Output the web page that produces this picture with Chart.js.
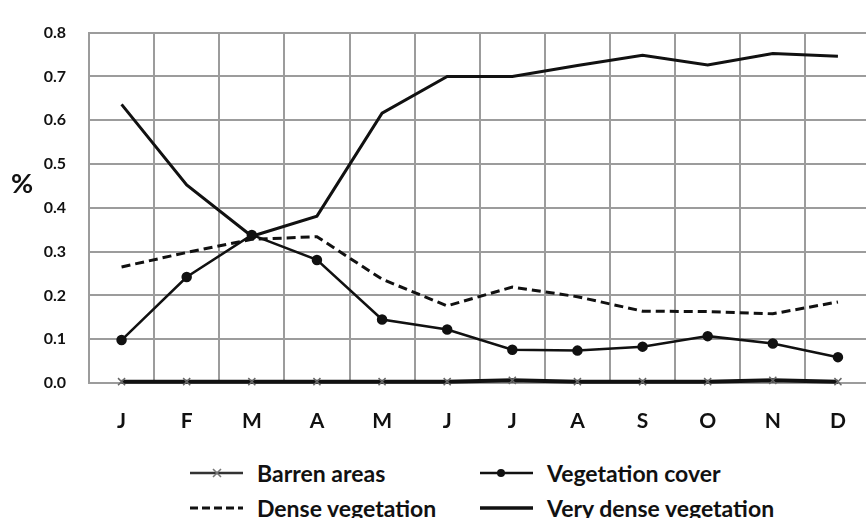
<!DOCTYPE html>
<html>
<head>
<meta charset="utf-8">
<script src="https://cdn.jsdelivr.net/npm/chart.js@4"></script>
<style>
  html, body { margin: 0; padding: 0; background: #fff; overflow: hidden; }
  #wrap { position: relative; width: 866px; height: 518px; overflow: hidden; font-family: Lato, "Liberation Sans", sans-serif; color: #111; }
  #chart { position: absolute; left: 0; top: 0; }
  #pct { position: absolute; left: 11px; top: 166px; font-size: 27px; font-weight: bold; }
  .lg { position: absolute; display: flex; align-items: center; font-size: 23px; font-weight: bold; white-space: nowrap; }
  .lg svg { margin-right: 14px; }
</style>
</head>
<body>
<div id="wrap">
  <canvas id="chart" width="877" height="450"></canvas>
  <div id="pct">%</div>
  <div id="legend"></div>
</div>
<script>
// months and values
const months = ['J', 'F', 'M', 'A', 'M', 'J', 'J', 'A', 'S', 'O', 'N', 'D'];
const yTicks = [0, 0.1, 0.2, 0.3, 0.4, 0.5, 0.6, 0.7, 0.8];

const barrenAreas = [0.003, 0.003, 0.003, 0.003, 0.003, 0.003, 0.006, 0.003, 0.003, 0.003, 0.006, 0.003];
const vegetationCover = [0.098, 0.242, 0.338, 0.281, 0.145, 0.122, 0.076, 0.074, 0.083, 0.107, 0.09, 0.059];
const denseVegetation = [0.265, 0.298, 0.328, 0.334, 0.237, 0.176, 0.219, 0.197, 0.164, 0.163, 0.158, 0.185];
const veryDenseVegetation = [0.636, 0.452, 0.335, 0.381, 0.616, 0.7, 0.7, 0.725, 0.748, 0.726, 0.752, 0.746];

const gridColor = '#9c9c9c';
const font = 'Lato, "Liberation Sans", sans-serif';

new Chart(document.getElementById('chart').getContext('2d'), {
    type: 'line',
    data: {
        labels: months,
        datasets: [
            { label: 'Very dense vegetation', data: veryDenseVegetation, borderColor: '#111', borderWidth: 3, pointRadius: 0, tension: 0 },
            { label: 'Dense vegetation', data: denseVegetation, borderColor: '#111', borderWidth: 3, borderDash: [9, 5], pointRadius: 0, tension: 0 },
            { label: 'Vegetation cover', data: vegetationCover, borderColor: '#111', borderWidth: 2.5, pointRadius: 4, pointBackgroundColor: '#111', pointBorderColor: '#111', tension: 0 },
            { label: 'Barren areas', data: barrenAreas, borderColor: '#111', borderWidth: 4, pointStyle: 'crossRot', pointRadius: 5, pointBorderColor: '#666', pointBorderWidth: 1.5, tension: 0, clip: false }
        ]
    },
    options: {
        responsive: false,
        animation: false,
        layout: { padding: { top: 23, right: 0, left: 0, bottom: 0 } },
        plugins: { legend: { display: false }, tooltip: { enabled: false } },
        scales: {
            x: {
                offset: true,
                grid: { offset: true, color: gridColor, lineWidth: 2, drawTicks: false },
                border: { color: gridColor, width: 2 },
                ticks: { color: '#111', font: { family: font, size: 21, weight: 'bold' }, padding: 26 },
                afterFit: s => { s.height = 67; }
            },
            y: {
                min: 0, max: 0.8,
                afterBuildTicks: s => { s.ticks = yTicks.map(v => ({ value: v })); },
                grid: { color: gridColor, lineWidth: 2, drawTicks: false },
                border: { color: gridColor, width: 2 },
                ticks: { color: '#111', font: { family: font, size: 16, weight: 'bold' }, padding: 23, callback: v => v.toFixed(1) },
                afterFit: s => { s.width = 89; }
            }
        }
    }
});

// legend, two rows of two entries
const legendItems = [
    ['Barren areas', 'x', 190, 473],
    ['Vegetation cover', 'dot', 480, 473],
    ['Dense vegetation', 'dash', 190, 508],
    ['Very dense vegetation', 'solid', 480, 508]
];
function sample(kind) {
    let s = '<svg width="53" height="14" viewBox="0 0 53 14">';
    if (kind === 'dash') s += '<line x1="0" y1="7" x2="53" y2="7" stroke="#111" stroke-width="3" stroke-dasharray="8,4"/>';
    else s += '<line x1="0" y1="7" x2="53" y2="7" stroke="' + (kind === 'x' ? '#333' : '#111') + '" stroke-width="' + (kind === 'solid' ? 3.5 : 2.5) + '"/>';
    if (kind === 'x') s += '<path d="M23 3 L31 11 M31 3 L23 11" stroke="#777" stroke-width="1.6"/>';
    if (kind === 'dot') s += '<circle cx="21" cy="7" r="4" fill="#111"/>';
    return s + '</svg>';
}
document.getElementById('legend').innerHTML = legendItems.map(([name, kind, x, y]) =>
    `<div class="lg" style="left:${x}px; top:${y - 15}px; height:30px;">${sample(kind)}<span>${name}</span></div>`
).join('');
</script>
</body>
</html>
